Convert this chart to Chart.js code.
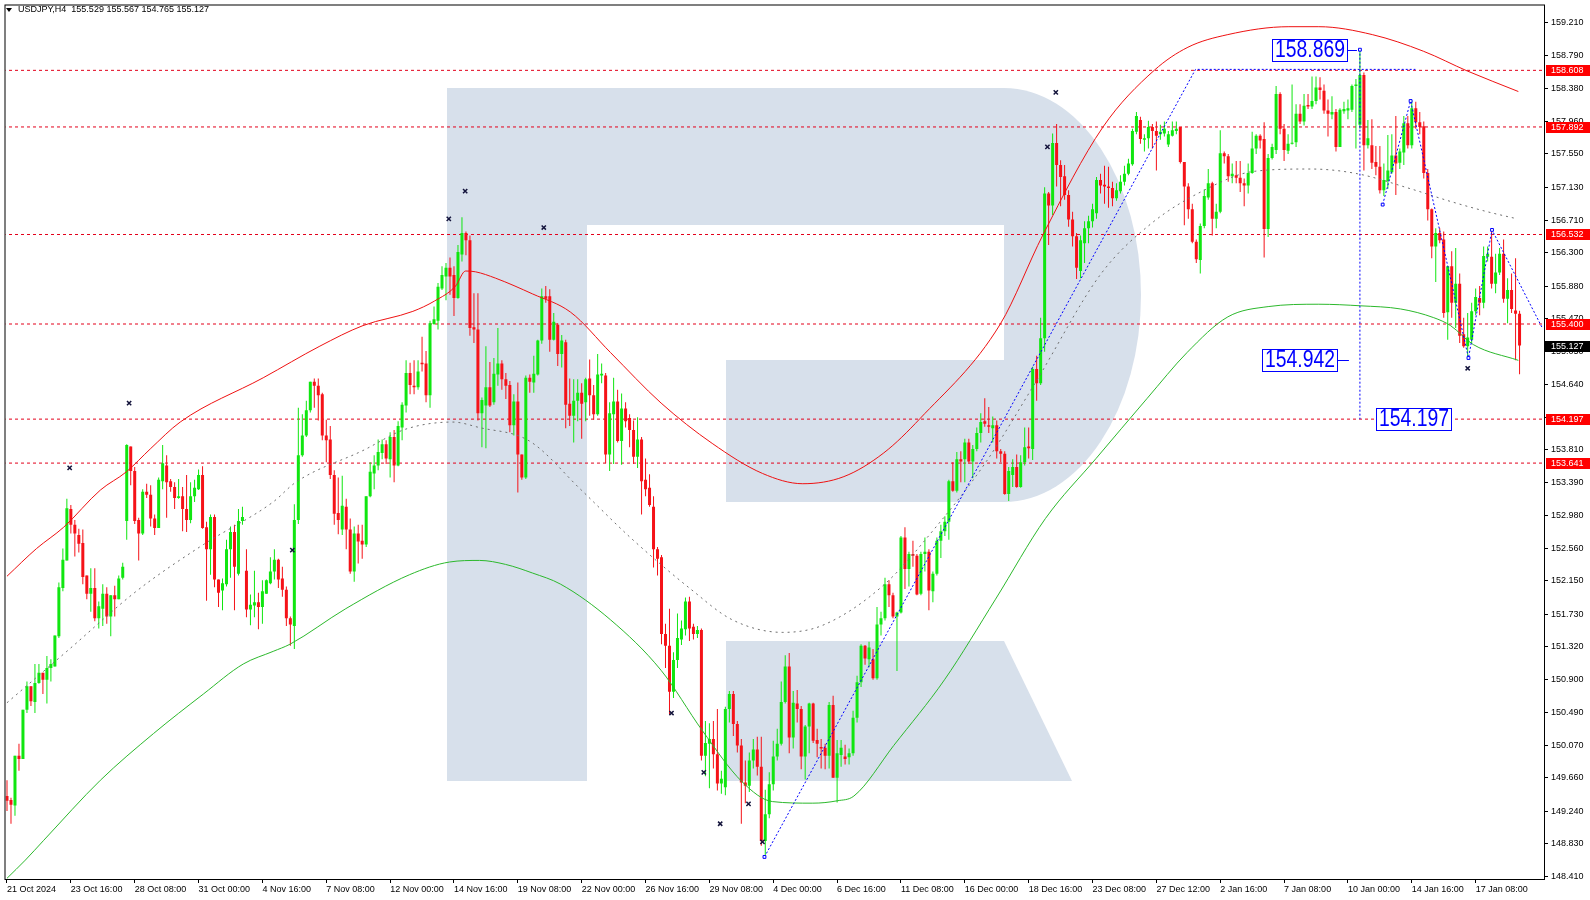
<!DOCTYPE html>
<html>
<head>
<meta charset="utf-8">
<script src="https://cdn.jsdelivr.net/npm/chart.js@4.4.1/dist/chart.umd.min.js"></script>
<style>
  html, body { margin: 0; padding: 0; background: #fff; }
  canvas { display: block; }
</style>
</head>
<body>
<canvas id="myChart" width="1590" height="900"></canvas>
<script>
// USDJPY H4 candles, bar 0 = 21 Oct 2024 00:00
const openP = [
149.43,149.38,149.31,149.94,149.90,150.52,150.82,150.62,150.86,150.99,
150.90,151.05,151.07,151.45,152.06,152.41,153.06,152.86,152.73,152.63,
152.22,151.99,152.06,151.68,151.80,151.99,151.70,151.97,151.92,152.19,
152.91,153.85,153.54,152.92,152.75,153.28,153.24,152.94,152.82,153.41,
153.61,153.41,153.34,153.20,153.22,153.06,152.92,153.22,153.31,153.49,
152.83,152.55,152.96,152.17,152.03,152.11,152.55,152.77,152.24,152.91,
152.28,151.79,151.84,151.88,151.82,151.99,152.12,152.27,152.42,152.18,
152.04,151.68,151.58,152.92,153.74,153.99,154.31,154.67,154.62,154.51,
153.99,153.94,153.49,153.01,152.80,153.09,152.80,152.27,152.75,152.66,
152.61,153.22,153.51,153.61,153.77,153.88,153.69,153.97,153.61,154.09,
154.37,154.78,154.62,154.60,154.91,154.90,154.50,155.40,155.44,155.85,
156.00,156.11,156.02,155.73,156.28,156.55,156.46,155.36,155.33,154.27,
154.37,154.60,154.41,154.76,154.90,154.70,154.63,154.12,154.42,153.75,
153.46,154.72,154.66,154.76,155.19,155.75,155.75,155.20,155.39,155.02,
155.17,154.39,154.24,154.43,154.53,154.41,154.71,154.50,154.26,154.75,
154.75,153.75,154.26,154.42,153.92,154.33,154.21,154.06,153.72,153.94,
153.43,153.33,153.09,152.55,152.45,151.48,151.33,150.75,151.15,151.41,
151.54,151.89,151.57,151.48,151.53,149.94,150.09,150.15,149.96,149.59,
149.54,150.53,150.72,150.34,150.07,149.60,149.56,149.88,150.02,149.80,
148.86,149.20,149.58,149.93,150.09,150.62,151.07,150.17,150.60,150.53,
149.93,150.31,150.60,150.14,150.05,150.04,149.94,150.58,149.66,149.95,
149.93,149.92,149.97,150.42,150.87,151.33,151.16,151.16,150.92,151.60,
151.68,152.11,151.97,151.70,151.75,152.70,152.30,152.49,152.47,151.99,
152.49,152.52,152.02,152.24,152.66,152.78,152.90,153.41,153.29,153.69,
153.69,153.90,153.66,153.82,154.02,154.17,154.12,154.08,154.12,153.79,
153.76,153.25,153.49,153.59,153.34,153.65,153.85,153.82,154.83,154.65,
155.22,157.05,156.90,157.69,157.41,157.27,157.03,156.72,156.51,156.07,
156.42,156.61,156.70,156.80,157.22,157.16,157.14,157.12,156.99,157.08,
157.20,157.30,157.42,157.83,157.98,157.73,157.75,157.89,157.84,157.80,
157.81,157.67,157.78,157.84,157.89,157.45,157.14,156.85,156.44,156.21,
156.64,157.00,157.18,156.73,156.82,157.56,157.52,157.27,157.28,157.25,
157.18,157.15,157.31,157.62,157.78,157.74,156.60,157.50,157.60,158.31,
157.87,157.59,157.68,157.70,158.06,157.96,158.17,158.15,158.22,158.39,
158.35,158.10,158.05,158.08,157.64,158.09,158.10,158.11,158.41,157.92,
158.55,157.66,157.66,157.45,157.39,157.09,157.21,157.32,157.53,157.44,
157.57,157.94,157.66,158.13,157.95,157.90,157.31,156.85,156.38,156.55,
156.47,155.55,156.13,155.67,155.91,155.27,155.12,155.20,155.56,155.73,
155.67,156.25,156.25,155.91,156.05,156.29,155.72,155.83,155.57,155.529
];
const closeP = [
149.37,149.32,149.94,149.90,150.52,150.82,150.63,150.86,150.99,150.90,
151.05,151.10,151.46,152.07,152.42,153.07,152.86,152.75,152.62,152.20,
151.99,152.06,151.68,151.83,151.99,151.70,151.97,151.92,152.18,152.33,
153.87,153.54,152.91,152.75,153.28,153.24,152.94,152.82,153.43,153.64,
153.40,153.34,153.20,153.22,153.06,152.92,153.22,153.33,153.49,152.82,
152.55,152.96,152.17,152.00,152.12,152.55,152.77,152.33,152.91,152.96,
151.79,151.85,151.88,151.82,152.02,152.16,152.27,152.42,152.17,152.04,
151.68,151.60,152.92,153.74,153.99,154.31,154.67,154.62,154.50,153.99,
153.93,153.49,153.00,152.92,153.10,152.80,152.27,152.75,152.65,152.61,
153.22,153.53,153.61,153.78,153.88,153.70,153.97,153.61,154.11,154.38,
154.78,154.63,154.60,154.80,154.89,154.50,155.41,155.46,155.87,156.02,
156.11,156.00,155.73,156.31,156.55,156.46,155.35,155.33,154.27,154.44,
154.60,154.37,154.77,154.90,154.70,154.62,154.12,154.42,153.75,153.46,
154.72,154.67,154.77,155.19,155.75,155.72,155.20,155.43,155.02,155.19,
154.38,154.24,154.43,154.53,154.39,154.70,154.50,154.26,154.76,154.77,
153.75,154.27,154.42,153.92,154.33,154.17,154.06,153.72,153.94,153.41,
153.31,153.11,152.55,152.43,151.48,151.33,150.75,151.15,151.43,151.55,
151.89,151.55,151.48,151.53,149.94,150.10,150.15,149.96,149.59,149.65,
150.53,150.72,150.34,150.07,149.60,149.56,149.88,150.02,149.80,148.86,
149.20,149.58,149.93,150.09,150.62,151.07,150.17,150.61,150.53,149.93,
150.31,150.60,150.13,150.09,150.03,149.94,150.58,149.66,149.97,150.04,
149.90,149.97,150.42,150.87,151.33,151.17,151.31,150.92,151.60,151.68,
152.11,151.97,151.70,151.75,152.70,152.30,152.49,152.47,151.98,152.49,
152.52,152.03,152.24,152.66,152.78,152.90,153.41,153.29,153.69,153.66,
153.90,153.66,153.82,154.02,154.16,154.14,154.10,154.12,153.79,153.76,
153.25,153.54,153.59,153.34,153.65,153.84,153.83,154.83,154.65,155.22,
157.05,156.90,157.69,157.41,157.26,157.03,156.72,156.51,156.11,156.46,
156.61,156.70,156.85,157.22,157.15,157.14,157.12,156.99,157.09,157.20,
157.30,157.43,157.84,158.03,157.74,157.75,157.89,157.84,157.78,157.83,
157.87,157.80,157.85,157.87,157.45,157.14,156.85,156.44,156.22,156.64,
157.02,157.18,156.73,156.82,157.56,157.52,157.27,157.30,157.25,157.18,
157.15,157.31,157.62,157.78,157.72,156.60,157.50,157.64,158.31,157.87,
157.60,157.68,157.69,158.06,157.96,158.16,158.15,158.22,158.39,158.36,
158.10,158.06,158.08,157.64,158.11,158.12,158.13,158.41,158.43,158.55,
157.66,157.75,157.44,157.39,157.09,157.22,157.34,157.53,157.43,157.58,
157.94,157.66,158.13,157.95,157.89,157.31,156.85,156.38,156.55,156.46,
155.54,156.13,155.67,155.91,155.25,155.12,155.23,155.56,155.74,155.67,
156.26,156.29,155.91,156.05,156.29,155.72,155.83,155.59,155.53,155.127
];
const highP = [
149.63,149.41,149.94,150.09,150.52,150.88,150.82,151.10,151.10,150.99,
151.20,151.16,151.46,152.13,152.56,153.19,153.11,152.92,152.81,152.80,
152.22,152.31,152.31,151.89,152.11,152.07,151.97,152.09,152.22,152.38,
153.88,153.85,153.59,152.95,153.31,153.38,153.36,152.99,153.46,153.87,
153.74,153.44,153.40,153.44,153.34,153.49,153.40,153.43,153.56,153.60,
152.90,152.99,152.99,152.17,152.18,152.67,152.84,152.86,153.06,153.09,
152.55,151.98,152.28,152.00,152.16,152.17,152.45,152.55,152.43,152.33,
152.08,151.70,153.12,154.34,154.26,154.43,154.67,154.71,154.71,154.53,
154.19,154.11,153.55,153.46,153.48,153.19,152.94,152.84,152.86,152.86,
153.22,153.65,153.74,153.94,153.94,153.93,154.03,154.06,154.17,154.41,
154.94,154.91,154.94,154.94,155.24,155.06,155.44,155.62,155.92,156.13,
156.17,156.24,156.13,156.40,156.75,156.57,156.52,155.79,155.79,154.47,
155.12,154.92,154.97,155.35,154.94,154.78,154.68,154.51,154.66,153.75,
154.75,154.76,155.00,155.20,155.85,155.88,155.84,155.54,155.41,155.26,
155.20,154.71,154.70,154.70,154.65,154.72,154.95,154.63,155.02,154.90,
154.78,154.41,154.72,154.57,154.52,154.41,154.26,154.18,154.22,153.97,
153.70,153.50,153.22,152.58,152.48,151.61,151.80,151.25,151.74,151.65,
151.94,151.95,151.61,151.58,151.55,150.38,150.35,150.38,150.53,149.75,
150.56,150.76,150.76,150.38,150.15,149.88,149.98,150.15,150.18,150.18,
149.51,149.73,150.13,150.28,150.88,151.21,151.24,150.76,150.77,150.57,
150.33,150.61,150.61,150.28,150.15,150.09,150.62,150.70,150.14,150.14,
150.08,150.03,150.51,150.95,151.35,151.34,151.38,151.29,151.82,151.76,
152.19,152.16,152.00,151.76,152.72,152.83,152.52,152.66,152.49,152.52,
152.70,152.55,152.27,152.70,152.86,152.97,153.43,153.65,153.78,153.79,
153.95,153.95,153.87,154.09,154.27,154.46,154.35,154.23,154.18,153.82,
153.79,153.59,153.69,153.75,153.74,154.09,154.09,154.86,155.00,155.48,
157.13,157.07,157.81,157.93,157.47,157.41,157.09,156.82,156.55,156.52,
156.70,156.77,156.92,157.26,157.30,157.40,157.39,157.20,157.18,157.28,
157.40,157.49,157.87,158.08,158.02,157.80,157.97,157.93,157.96,157.92,
157.96,157.84,157.96,157.96,157.89,157.45,157.18,156.92,156.47,156.67,
157.10,157.36,157.20,156.92,157.85,157.58,157.55,157.43,157.46,157.46,
157.24,157.43,157.83,157.80,157.80,157.95,157.55,157.68,158.41,158.33,
157.93,157.80,158.43,158.18,158.18,158.31,158.31,158.53,158.53,158.52,
158.43,158.24,158.28,158.12,158.13,158.21,158.24,158.43,158.50,158.869,
158.58,157.98,157.99,157.65,157.65,157.43,157.79,157.80,158.03,157.62,
158.03,158.03,158.23,158.21,158.08,157.96,157.36,156.86,156.61,156.61,
156.57,156.13,156.32,156.36,156.04,155.48,155.54,155.67,155.85,155.88,
156.38,156.38,156.59,156.29,156.36,156.47,155.98,156.04,156.23,155.567
];
const lowP = [
149.24,149.08,149.18,149.75,149.90,150.48,150.57,150.48,150.85,150.72,
150.60,150.88,151.07,151.43,152.02,152.41,152.75,152.46,152.51,152.11,
151.92,151.76,151.64,151.55,151.58,151.61,151.45,151.70,151.92,152.17,
152.67,153.36,152.87,152.41,152.73,153.20,152.84,152.73,152.82,153.31,
152.95,153.28,153.06,153.19,152.78,152.77,152.88,153.15,153.30,152.81,
151.90,152.23,152.07,151.82,151.78,152.08,152.19,151.78,152.22,152.86,
151.69,151.59,151.69,151.54,151.61,151.99,152.11,152.17,152.06,151.95,
151.58,151.33,151.29,152.87,153.72,153.97,154.28,154.34,154.18,153.93,
153.65,153.44,152.86,152.74,152.73,152.55,152.24,152.14,152.37,152.43,
152.58,153.21,153.31,153.55,153.69,153.63,153.46,153.40,153.60,153.93,
154.28,154.51,154.51,154.57,154.80,154.41,154.34,155.39,155.33,155.83,
155.70,155.77,155.50,155.72,156.19,156.27,155.25,155.16,154.18,153.84,
153.83,154.35,154.38,154.62,154.57,154.45,154.03,153.99,153.27,153.43,
153.44,154.53,154.53,154.75,155.15,155.67,155.05,155.19,154.87,154.85,
154.08,154.11,153.90,154.17,153.95,154.17,154.24,154.19,154.24,154.65,
153.64,153.54,153.63,153.90,153.62,154.09,153.84,153.63,153.58,152.99,
153.22,153.09,152.32,152.22,151.35,151.05,150.46,150.67,151.05,151.34,
151.46,151.39,151.41,151.43,149.88,149.68,149.53,149.78,149.50,149.46,
149.44,150.36,150.19,149.98,149.08,149.34,149.48,149.78,149.69,148.80,
148.65,149.15,149.50,149.88,150.07,150.60,149.97,150.03,150.36,149.77,
149.64,149.97,150.10,149.92,149.78,149.77,149.78,149.66,149.35,149.80,
149.83,149.83,149.94,150.36,150.81,151.09,151.06,150.90,150.90,151.46,
151.65,151.82,151.68,151.01,151.74,152.05,152.08,152.33,151.97,151.97,
152.27,151.78,151.88,152.22,152.44,152.72,152.67,153.28,153.27,153.40,
153.40,153.63,153.45,153.79,153.90,154.10,154.02,153.90,153.70,153.65,
153.24,153.16,153.34,153.33,153.33,153.61,153.70,153.68,154.43,154.63,
155.05,156.40,156.78,157.14,156.89,156.97,156.63,156.38,155.97,155.98,
156.17,156.42,156.62,156.73,157.05,156.92,156.87,156.89,156.96,157.05,
157.15,157.28,157.40,157.80,157.68,157.58,157.62,157.62,157.34,157.73,
157.77,157.64,157.77,157.80,157.43,156.65,156.73,156.42,156.17,156.04,
156.61,156.97,156.52,156.61,156.80,157.43,157.20,157.18,157.18,157.07,
156.89,157.05,157.30,157.55,157.62,156.24,156.50,157.48,157.55,157.80,
157.46,157.55,157.67,157.64,157.93,157.91,158.12,158.12,158.18,158.24,
158.06,157.77,157.99,157.58,157.64,158.06,157.99,158.08,157.62,157.87,
157.34,157.62,157.36,157.28,157.05,157.02,157.11,157.30,157.03,157.36,
157.41,157.62,157.62,157.87,157.80,157.24,156.71,156.23,155.93,156.42,
155.48,155.20,155.48,155.35,155.16,155.10,154.97,155.16,155.51,155.51,
155.60,156.19,155.85,155.79,156.02,155.67,155.41,155.54,154.94,154.765
];

// time axis labels, one every 16 bars
const xTickBars = [0,16,32,48,64,80,96,112,128,144,160,176,192,208,224,240,256,272,288,304,320,336,352,368];
const xTickLabels = ['21 Oct 2024','23 Oct 16:00','28 Oct 08:00','31 Oct 00:00','4 Nov 16:00','7 Nov 08:00',
  '12 Nov 00:00','14 Nov 16:00','19 Nov 08:00','22 Nov 00:00','26 Nov 16:00','29 Nov 08:00','4 Dec 00:00',
  '6 Dec 16:00','11 Dec 08:00','16 Dec 00:00','18 Dec 16:00','23 Dec 08:00','27 Dec 12:00','2 Jan 16:00',
  '7 Jan 08:00','10 Jan 00:00','14 Jan 16:00','17 Jan 08:00'];

// price scale labels
const yTicks = [159.210,158.790,158.380,157.960,157.550,157.130,156.710,156.300,155.880,155.470,155.050,
  154.640,154.220,153.810,153.390,152.980,152.560,152.150,151.730,151.320,150.900,150.490,150.070,
  149.660,149.240,148.830,148.410];

// horizontal levels
const hLevels = [158.608, 157.892, 156.532, 155.400, 154.197, 153.641];

// envelope curves (bar index, price)
const redX = [0,7.4,14.2,23.4,29.9,35.9,43.4,64.2,78.4,89.2,101.7,107.1,112.4,114.9,117.4,122.4,131.7,141.2,151.2,163.9,176.7,189.3,199.4,209.7,219.7,228.7,248.9,259.6,274.6,287.5,295.9,305.9,321.2,328.7,342.1,354.9,365.9,378.7];
const redY = [152.21,152.56,152.83,153.30,153.53,153.82,154.16,154.72,155.12,155.38,155.56,155.69,155.88,156.07,156.06,155.98,155.78,155.55,155.04,154.40,153.89,153.51,153.38,153.47,153.77,154.20,155.40,156.53,157.89,158.61,158.90,159.06,159.16,159.16,159.06,158.85,158.60,158.34];
const greenX = [0,4.6,9.2,23.4,36.7,49.2,59.2,66.7,70.9,84.9,100.9,110.9,118.4,124.9,131.7,138.7,151.2,163.9,174.2,184.2,191.8,201.9,208,212.2,222.2,234.9,247.7,260.2,272.9,285.7,295.7,305.9,316,328.7,339.2,349.2,357.5,361.7,367.4,378.7];
const greenY = [148.39,148.62,148.87,149.63,150.22,150.72,151.10,151.26,151.35,151.80,152.23,152.39,152.41,152.36,152.25,152.11,151.66,151.02,150.26,149.61,149.36,149.34,149.37,149.43,150.07,150.90,151.92,152.94,153.70,154.46,155.04,155.49,155.62,155.65,155.63,155.59,155.48,155.38,155.14,154.94];
const greyX = [0,15.9,32.4,49.2,66.7,72.4,89.2,99.9,111.7,118.4,130.9,143.7,156.4,171.5,181.7,194.4,204.4,219.7,232.4,245.1,257.7,274.2,286.7,299.9,312.4,326.7,338.4,351.7,361.7,370.9,378.4];
const greyY = [150.61,151.30,152.02,152.61,153.15,153.40,153.80,154.07,154.16,154.09,153.92,153.31,152.69,152.04,151.66,151.50,151.59,152.10,152.81,153.64,154.66,156.04,156.67,157.09,157.33,157.36,157.30,157.11,156.95,156.82,156.73];

// fractal marks
const fractalX = [15.7,30.6,71.5,110.7,114.8,134.5,166.5,174.6,178.7,185.8,189.3,260.7,262.8,366.0];
const fractalY = [153.58,154.40,152.54,156.73,157.08,156.62,150.48,149.73,149.08,149.33,148.85,157.64,158.33,154.84];

// blue trend lines
const upX = [189.8, 297.8, 352.9];
const upY = [148.66, 158.62, 158.62];
const vertX = [339, 339];
const vertY = [158.869, 154.197];
const downX = [344.7, 351.7, 366.2, 372.1, 384.7];
const downY = [156.91, 158.22, 154.97, 156.59, 155.35];

// price tags
const tags = [
  { text: '158.869', bar: 339, price: 158.869, side: 'left', gap: 12 },
  { text: '154.942', bar: 339, price: 154.942, side: 'left', gap: 22 },
  { text: '154.197', bar: 339, price: 154.197, side: 'right', gap: 16 }
];

const GREEN = '#10e610';
const RED = '#f51218';
const FONT = '"Liberation Sans", Arial, sans-serif';

const barColors = openP.map((o, i) => closeP[i] >= o ? GREEN : RED);
const pts = (xs, ys) => xs.map((x, i) => ({ x: x, y: ys[i] }));

const datasets = [];
hLevels.forEach(v => {
  datasets.push({
    type: 'line', data: [{ x: -1, y: v }, { x: 390, y: v }],
    borderColor: '#e3001b', borderWidth: 1, borderDash: [3, 3],
    pointRadius: 0, order: 20
  });
});
datasets.push({
  type: 'bar', data: openP.map((o, i) => ({ x: i, y: [lowP[i], highP[i]] })),
  backgroundColor: barColors, barThickness: 1, grouped: false, inflateAmount: 0, order: 8
});
datasets.push({
  type: 'bar', data: openP.map((o, i) => ({ x: i, y: [o, closeP[i]] })),
  backgroundColor: barColors, barThickness: 3, minBarLength: 1, grouped: false, inflateAmount: 0, order: 7
});
datasets.push({
  type: 'line', data: pts(redX, redY), borderColor: '#ee1111', borderWidth: 1,
  cubicInterpolationMode: 'monotone', pointRadius: 0, order: 4
});
datasets.push({
  type: 'line', data: pts(greenX, greenY), borderColor: '#2cb82c', borderWidth: 1,
  cubicInterpolationMode: 'monotone', pointRadius: 0, order: 4
});
datasets.push({
  type: 'line', data: pts(greyX, greyY), borderColor: '#6e6e6e', borderWidth: 1, borderDash: [2, 4],
  cubicInterpolationMode: 'monotone', pointRadius: 0, order: 4
});
[[upX, upY, [2, 0, 0]], [vertX, vertY, [2, 0]], [downX, downY, [2, 2, 2, 2, 0]]].forEach(t => {
  datasets.push({
    type: 'line', data: pts(t[0], t[1]), borderColor: '#0000ff', borderWidth: 1, borderDash: [2, 2],
    tension: 0, pointRadius: t[2], pointStyle: 'rect', pointBackgroundColor: '#ffffff',
    pointBorderColor: '#0000ff', pointBorderWidth: 1, order: 2
  });
});
datasets.push({
  type: 'line', data: pts(fractalX, fractalY), showLine: false, pointStyle: 'crossRot',
  pointRadius: 3, pointBorderColor: '#14143c', pointBorderWidth: 1.5, order: 1
});

const decor = {
  id: 'decor',
  beforeDraw(chart) {
    const ctx = chart.ctx;
    ctx.save();
    ctx.fillStyle = '#ffffff';
    ctx.fillRect(0, 0, chart.width, chart.height);
    // broker logo in the background
    ctx.fillStyle = '#d7e0eb';
    ctx.fillRect(447, 88, 140, 693);
    ctx.fillRect(447, 88, 557, 137);
    ctx.fillRect(726, 360, 278, 142);
    ctx.beginPath();
    ctx.ellipse(1004, 295, 137, 207, 0, -Math.PI / 2, Math.PI / 2);
    ctx.closePath();
    ctx.fill();
    ctx.beginPath();
    ctx.moveTo(726, 641); ctx.lineTo(1004, 641); ctx.lineTo(1072, 781); ctx.lineTo(726, 781);
    ctx.closePath();
    ctx.fill();
    ctx.restore();
  },
  afterDraw(chart) {
    const ctx = chart.ctx, a = chart.chartArea;
    const xs = chart.scales.x, ys = chart.scales.y;
    ctx.save();
    // frame
    ctx.strokeStyle = '#000';
    ctx.lineWidth = 1;
    ctx.strokeRect(a.left - 0.5, a.top - 0.5, a.right - a.left + 1, a.bottom - a.top + 1);

    // level labels on the price scale
    ctx.font = '9px ' + FONT;
    ctx.textBaseline = 'middle';
    ctx.textAlign = 'left';
    hLevels.forEach(v => {
      const y = Math.round(ys.getPixelForValue(v));
      ctx.fillStyle = '#ff0000';
      ctx.fillRect(a.right + 2, y - 5, 44, 11);
      ctx.fillStyle = '#ffffff';
      ctx.fillText(v.toFixed(3), a.right + 7, y + 0.5);
    });
    // current price label
    const last = closeP[closeP.length - 1];
    const yl = Math.round(ys.getPixelForValue(last));
    ctx.fillStyle = '#000000';
    ctx.fillRect(a.right + 1, yl - 5, 45, 11);
    ctx.fillStyle = '#ffffff';
    ctx.fillText(last.toFixed(3), a.right + 7, yl + 0.5);

    // title
    ctx.fillStyle = '#000';
    ctx.beginPath();
    ctx.moveTo(6, 8); ctx.lineTo(12, 8); ctx.lineTo(9, 12); ctx.closePath();
    ctx.fill();
    ctx.font = '9px ' + FONT;
    ctx.fillText('USDJPY,H4  155.529 155.567 154.765 155.127', 18, 10);

    // price tags
    tags.forEach(t => {
      const px = xs.getPixelForValue(t.bar);
      const py = Math.round(ys.getPixelForValue(t.price));
      const w = 76, h = 23;
      const x0 = t.side === 'left' ? Math.round(px - t.gap - w) : Math.round(px + t.gap);
      ctx.fillStyle = '#ffffff';
      ctx.fillRect(x0, py - 11, w, h);
      ctx.strokeStyle = '#0000ff';
      ctx.lineWidth = 1;
      ctx.strokeRect(x0 + 0.5, py - 11 + 0.5, w - 1, h - 1);
      if (t.side === 'left') {
        ctx.beginPath();
        ctx.moveTo(x0 + w, py + 0.5);
        ctx.lineTo(px - (t.gap > 15 ? 11 : 3), py + 0.5);
        ctx.stroke();
      }
      ctx.font = '23px ' + FONT;
      ctx.fillStyle = '#0000ff';
      ctx.textAlign = 'center';
      const tw = ctx.measureText(t.text).width;
      const k = 70 / tw;
      ctx.save();
      ctx.translate(x0 + w / 2, py + 1);
      ctx.scale(k, 1);
      ctx.fillText(t.text, 0, 0);
      ctx.restore();
      ctx.textAlign = 'left';
    });
    ctx.restore();
  }
};

new Chart(document.getElementById('myChart').getContext('2d'), {
  type: 'bar',
  data: { datasets: datasets },
  options: {
    responsive: false,
    devicePixelRatio: 1,
    animation: false,
    events: [],
    layout: { padding: { left: 2, top: 1, right: 0, bottom: 0 } },
    plugins: { legend: { display: false }, tooltip: { enabled: false } },
    scales: {
      x: {
        type: 'linear',
        min: -0.375,
        max: 385.125,
        offset: false,
        grid: { offset: false, drawOnChartArea: false, drawTicks: true, tickLength: 4, color: '#000' },
        border: { display: false },
        afterBuildTicks: scale => { scale.ticks = xTickBars.map(v => ({ value: v })); },
        afterFit: scale => {
          scale.height = 21;
          scale.paddingLeft = 0;
          scale.paddingRight = 0;
        },
        ticks: {
          autoSkip: false, maxRotation: 0, align: 'start', padding: 1,
          color: '#000', font: { family: FONT, size: 9 },
          callback: (v) => xTickLabels[xTickBars.indexOf(v)]
        }
      },
      y: {
        type: 'linear',
        position: 'right',
        min: 148.381,
        max: 159.428,
        grid: { drawOnChartArea: false, drawTicks: true, tickLength: 4, color: '#000' },
        border: { display: false },
        afterBuildTicks: scale => { scale.ticks = yTicks.map(v => ({ value: v })); },
        afterFit: scale => {
          scale.width = 46;
          scale.paddingTop = 0;
          scale.paddingBottom = 0;
        },
        ticks: {
          autoSkip: false, padding: 3, color: '#000', font: { family: FONT, size: 9 },
          callback: v => v.toFixed(3)
        }
      }
    }
  },
  plugins: [decor]
});
</script>
</body>
</html>
